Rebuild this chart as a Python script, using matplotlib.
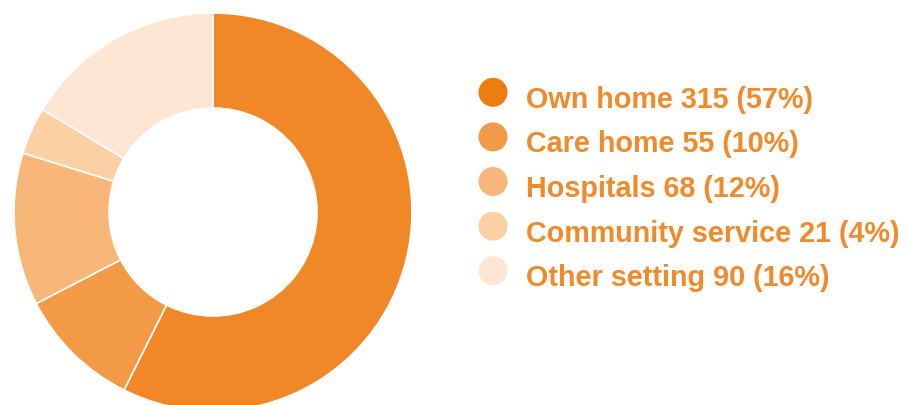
import matplotlib.pyplot as plt
from matplotlib.patches import Circle

# Place of death breakdown
labels = ["Own home", "Care home", "Hospitals", "Community service", "Other setting"]
counts = [315, 55, 68, 21, 90]
percents = [57, 10, 12, 4, 16]

slice_colors = ["#F08827", "#F29A45", "#F8B678", "#FBD0A5", "#FDE6D4"]
dot_colors = ["#EE7D10", "#F29A45", "#F8B678", "#FBD0A5", "#FDE6D4"]
text_color = "#F08A2B"

W, H = 908, 406
fig = plt.figure(figsize=(W / 100, H / 100), dpi=100)
ax = fig.add_axes([0, 0, 1, 1])

# donut, drawn clockwise from 12 o'clock
ax.pie(counts, colors=slice_colors, startangle=90, counterclock=False,
       center=(213, H - 213), radius=199,
       wedgeprops=dict(width=95, edgecolor="white", linewidth=1.2))

# legend drawn by hand
for i, (lab, c, p) in enumerate(zip(labels, counts, percents)):
    y = H - (93.3 + i * 44.6)
    ax.add_patch(Circle((493, y), 14.5, color=dot_colors[i], lw=0))
    ax.text(526, y - 14.5, f"{lab} {c} ({p}%)", color=text_color,
            fontsize=20.7, fontweight="bold", family="Liberation Sans",
            va="baseline", ha="left")

ax.set_xlim(0, W)
ax.set_ylim(0, H)
ax.set_aspect("equal")
ax.axis("off")

fig.savefig("out.png", dpi=100)
